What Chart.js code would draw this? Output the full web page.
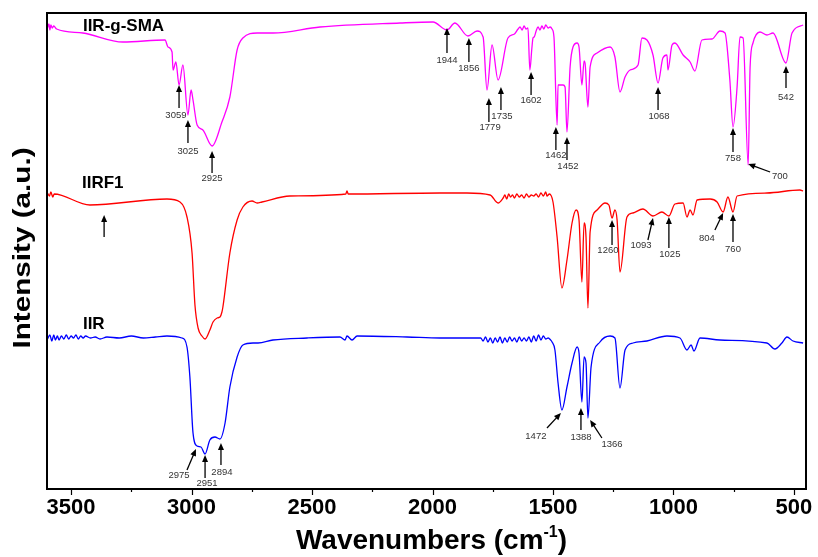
<!DOCTYPE html>
<html>
<head>
<meta charset="utf-8">
<script src="https://cdn.jsdelivr.net/npm/chart.js@4.4.0/dist/chart.umd.min.js"></script>
<style>
  body { margin: 0; background: #fff; }
  #wrap { width: 818px; height: 557px; }
</style>
</head>
<body>
<div id="wrap"><canvas id="ftir" width="818" height="557"></canvas></div>
<script>
// wavenumber (cm-1) / intensity (a.u., offset per trace)
var smaWn = [3598, 3592, 3588, 3584, 3578, 3572, 3560, 3451, 3285, 3110, 3098, 3081, 3077, 3065, 3052, 3036, 3015, 3002, 2994, 2977, 2953, 2915, 2874, 2841, 2811, 2787, 2728, 2662, 2467, 2135, 1998, 1940, 1907, 1853, 1815, 1790, 1774, 1753, 1728, 1687, 1660, 1645, 1637, 1628, 1620, 1612, 1604, 1596, 1588, 1583, 1578, 1570, 1562, 1554, 1546, 1538, 1530, 1520, 1512, 1504, 1496, 1483, 1479, 1458, 1450, 1442, 1429, 1417, 1400, 1392, 1380, 1371, 1367, 1355, 1346, 1317, 1263, 1243, 1222, 1201, 1180, 1147, 1131, 1110, 1085, 1064, 1044, 1027, 1023, 1006, 994, 960, 931, 911, 882, 840, 807, 786, 766, 753, 736, 724, 711, 690, 682, 670, 641, 612, 587, 533, 508, 462];
var smaVal = [461, 465, 459, 464, 461, 463, 460, 456, 447, 449, 442, 437, 419, 427, 404, 424, 374, 399, 389, 364, 359, 343, 367, 392, 439, 451, 456, 456, 462, 466, 467, 459, 466, 453, 458, 452, 399, 444, 409, 451, 455, 460, 462, 459, 463, 460, 461, 419, 440, 451, 452, 458, 462, 459, 463, 460, 464, 461, 462, 460, 452, 364, 404, 404, 402, 357, 422, 442, 446, 442, 404, 428, 426, 382, 422, 436, 442, 432, 397, 412, 419, 424, 451, 449, 434, 406, 431, 434, 419, 444, 446, 434, 427, 418, 449, 450, 458, 456, 409, 362, 402, 452, 451, 324, 422, 446, 457, 454, 456, 426, 456, 464];

var rf1Wn = [3598, 3590, 3584, 3576, 3570, 3422, 3102, 3048, 3019, 2998, 2986, 2973, 2957, 2944, 2924, 2911, 2894, 2882, 2874, 2870, 2841, 2811, 2787, 2749, 2728, 2708, 2592, 2360, 2355, 2350, 1969, 1857, 1761, 1728, 1707, 1700, 1692, 1684, 1676, 1668, 1660, 1650, 1640, 1630, 1620, 1610, 1600, 1590, 1580, 1570, 1560, 1550, 1540, 1530, 1525, 1515, 1500, 1483, 1463, 1442, 1421, 1404, 1392, 1380, 1371, 1363, 1355, 1346, 1317, 1284, 1268, 1255, 1243, 1234, 1222, 1193, 1168, 1127, 1085, 1048, 1019, 994, 960, 944, 931, 919, 902, 848, 819, 794, 774, 753, 736, 612, 475, 462];
var rf1Val = [296, 293, 297, 292, 295, 284, 290, 287, 272, 236, 184, 161, 153, 150, 159, 167, 171, 172, 177, 182, 236, 269, 282, 288, 286, 287, 293, 295, 298, 295, 296, 296, 294, 286, 291, 294, 290, 295, 292, 294, 291, 295, 292, 294, 291, 295, 292, 294, 293, 295, 292, 296, 293, 297, 293, 295, 287, 252, 201, 229, 266, 279, 269, 207, 266, 252, 181, 257, 279, 286, 284, 271, 279, 269, 217, 272, 276, 280, 273, 277, 273, 285, 286, 272, 279, 274, 289, 290, 287, 277, 292, 277, 293, 296, 299, 298];

var iirWn = [3598, 3588, 3580, 3572, 3565, 3557, 3550, 3540, 3530, 3520, 3510, 3500, 3490, 3480, 3470, 3460, 3450, 3440, 3420, 3400, 3380, 3351, 3300, 3250, 3200, 3150, 3102, 3040, 3019, 3007, 2994, 2977, 2961, 2944, 2924, 2903, 2882, 2861, 2841, 2811, 2787, 2745, 2724, 2662, 2521, 2384, 2363, 2355, 2334, 2313, 2106, 1969, 1800, 1790, 1780, 1770, 1760, 1750, 1740, 1730, 1720, 1710, 1700, 1690, 1680, 1670, 1660, 1650, 1640, 1630, 1620, 1610, 1600, 1590, 1580, 1570, 1560, 1550, 1540, 1530, 1520, 1510, 1504, 1492, 1479, 1463, 1442, 1421, 1400, 1392, 1380, 1371, 1363, 1355, 1342, 1305, 1263, 1243, 1222, 1201, 1168, 1110, 1027, 973, 944, 927, 915, 890, 807, 612, 579, 550, 529, 504, 462];
var iirVal = [150, 154, 148, 154, 149, 153, 149, 153, 150, 154, 150, 153, 151, 154, 150, 153, 151, 153, 151, 152, 150, 152, 151, 153, 151, 152, 153, 151, 142, 112, 56, 43, 42, 35, 49, 52, 50, 66, 102, 132, 144, 146, 146, 149, 151, 152, 149, 153, 149, 153, 152, 151, 151, 148, 152, 147, 151, 146, 151, 147, 152, 146, 151, 147, 152, 148, 151, 147, 152, 148, 151, 148, 152, 147, 153, 148, 154, 149, 153, 150, 151, 149, 147, 139, 106, 79, 102, 126, 142, 136, 87, 132, 126, 71, 122, 147, 153, 151, 101, 139, 146, 148, 153, 151, 139, 144, 138, 151, 149, 146, 140, 146, 152, 148, 146];

var traceNames = ['IIR-g-SMA', 'IIRF1', 'IIR'];
var traceColors = ['#ff00ff', '#ff0000', '#0000ff'];
var nameWn = [3451, 3455, 3451];
var nameVal = [458, 301, 160];

// peak labels: text, arrow tip, arrow tail, text position
var peakText = ['3059', '3025', '2925', '1944', '1856', '1779', '1735', '1602', '1462', '1452', '1068', '758', '700', '542',
                '', '1260', '1093', '1025', '804', '760',
                '2975', '2951', '2894', '1472', '1388', '1366'];
var tipWn  = [3052, 3015, 2915, 1940, 1849, 1766, 1716, 1591, 1488, 1442, 1064, 753, 690, 533, 3363, 1255, 1085, 1019, 794, 753, 2982, 2944, 2878, 1467, 1384, 1346];
var tipVal = [404, 369, 338, 461, 451, 391, 402, 417, 362, 352, 402, 361, 325, 423, 274, 269, 271, 272, 276, 275, 40, 34, 46, 76, 81, 69];
var tailWn  = [3052, 3015, 2915, 1940, 1849, 1766, 1716, 1591, 1488, 1442, 1064, 753, 599, 533, 3363, 1255, 1106, 1019, 828, 753, 3019, 2944, 2878, 1525, 1384, 1297];
var tailVal = [381, 346, 316, 436, 427, 367, 379, 394, 339, 329, 379, 337, 317, 401, 252, 244, 249, 241, 259, 247, 19, 11, 24, 61, 59, 51];
var textWn  = [3065, 3015, 2915, 1940, 1849, 1761, 1712, 1591, 1488, 1438, 1060, 753, 558, 533, 0, 1272, 1135, 1015, 861, 753, 3052, 2936, 2874, 1571, 1384, 1255];
var textVal = [374, 338, 311, 429, 421, 362, 373, 389, 334, 323, 373, 331, 313, 392, 0, 239, 244, 235, 251, 240, 14, 6, 17, 53, 52, 45];

function pts(wn, val) {
  var out = [];
  for (var i = 0; i < wn.length; i++) out.push({x: wn[i], y: val[i]});
  return out;
}

var BOLD = '"Liberation Sans", Arial, Helvetica, sans-serif';

function arrow(ctx, x1, y1, x2, y2) {
  // from tail (x1,y1) to tip (x2,y2)
  var a = Math.atan2(y2 - y1, x2 - x1);
  var hl = 7, hw = 3;
  ctx.beginPath();
  ctx.moveTo(x1, y1);
  ctx.lineTo(x2 - Math.cos(a) * hl * 0.8, y2 - Math.sin(a) * hl * 0.8);
  ctx.stroke();
  ctx.beginPath();
  ctx.moveTo(x2, y2);
  ctx.lineTo(x2 - Math.cos(a) * hl + Math.sin(a) * hw, y2 - Math.sin(a) * hl - Math.cos(a) * hw);
  ctx.lineTo(x2 - Math.cos(a) * hl - Math.sin(a) * hw, y2 - Math.sin(a) * hl + Math.cos(a) * hw);
  ctx.closePath();
  ctx.fill();
}

var decor = {
  id: 'decor',
  afterDraw: function(chart) {
    var ctx = chart.ctx, ca = chart.chartArea;
    var xs = chart.scales.x, ys = chart.scales.y;
    ctx.save();

    // frame
    ctx.strokeStyle = '#000';
    ctx.lineWidth = 2;
    ctx.strokeRect(ca.left, ca.top, ca.right - ca.left, ca.bottom - ca.top);

    // x ticks
    ctx.lineWidth = 1.2;
    xs.ticks.forEach(function(t) {
      var px = Math.round(xs.getPixelForValue(t.value)) + 0.5;
      var len = (t.value % 500 === 0) ? 6 : 3;
      ctx.beginPath();
      ctx.moveTo(px, ca.bottom);
      ctx.lineTo(px, ca.bottom + len);
      ctx.stroke();
    });

    // trace names
    ctx.font = 'bold 17px ' + BOLD;
    ctx.fillStyle = '#000';
    ctx.textAlign = 'left';
    ctx.textBaseline = 'alphabetic';
    for (var i = 0; i < traceNames.length; i++) {
      ctx.fillText(traceNames[i], xs.getPixelForValue(nameWn[i]), ys.getPixelForValue(nameVal[i]));
    }

    // peak arrows and labels
    ctx.strokeStyle = '#000';
    ctx.fillStyle = '#000';
    ctx.lineWidth = 1.3;
    for (var j = 0; j < peakText.length; j++) {
      arrow(ctx, xs.getPixelForValue(tailWn[j]), ys.getPixelForValue(tailVal[j]),
                 xs.getPixelForValue(tipWn[j]), ys.getPixelForValue(tipVal[j]));
    }
    ctx.font = '9.5px ' + BOLD;
    ctx.fillStyle = '#333';
    ctx.textAlign = 'center';
    ctx.textBaseline = 'middle';
    for (var k = 0; k < peakText.length; k++) {
      if (!peakText[k]) continue;
      ctx.fillText(peakText[k], xs.getPixelForValue(textWn[k]), ys.getPixelForValue(textVal[k]));
    }

    // y title
    ctx.save();
    ctx.fillStyle = '#000';
    ctx.font = 'bold 24px ' + BOLD;
    ctx.translate(23, (ca.top + ca.bottom) / 2 - 3);
    ctx.rotate(-Math.PI / 2);
    var yt = 'Intensity (a.u.)';
    var yw = ctx.measureText(yt).width;
    ctx.scale(201 / yw, 1);
    ctx.textAlign = 'center';
    ctx.textBaseline = 'middle';
    ctx.fillText(yt, 0, 0);
    ctx.restore();

    // x title with superscript
    ctx.save();
    ctx.fillStyle = '#000';
    ctx.textAlign = 'left';
    ctx.textBaseline = 'alphabetic';
    var big = 'bold 28px ' + BOLD, small = 'bold 16px ' + BOLD;
    ctx.font = big;
    var p1 = 'Wavenumbers (cm', p3 = ')';
    var w1 = ctx.measureText(p1).width, w3 = ctx.measureText(p3).width;
    ctx.font = small;
    var w2 = ctx.measureText('-1').width;
    var total = w1 + w2 + w3;
    var target = 271;
    ctx.translate((ca.left + ca.right) / 2 + 5 - target / 2, 549);
    ctx.scale(target / total, 1);
    ctx.font = big;
    ctx.fillText(p1, 0, 0);
    ctx.font = small;
    ctx.fillText('-1', w1, -12);
    ctx.font = big;
    ctx.fillText(p3, w1 + w2, 0);
    ctx.restore();

    ctx.restore();
  }
};

var ctx = document.getElementById('ftir');
var chart = new Chart(ctx, {
  type: 'line',
  data: {
    datasets: [
      { label: traceNames[0], data: pts(smaWn, smaVal), borderColor: traceColors[0] },
      { label: traceNames[1], data: pts(rf1Wn, rf1Val), borderColor: traceColors[1] },
      { label: traceNames[2], data: pts(iirWn, iirVal), borderColor: traceColors[2] }
    ]
  },
  options: {
    responsive: false,
    animation: false,
    devicePixelRatio: 1,
    layout: { padding: { top: 13, right: 12, left: 0, bottom: 0 } },
    elements: {
      line: { borderWidth: 1.3, cubicInterpolationMode: 'monotone', fill: false },
      point: { radius: 0 }
    },
    plugins: {
      legend: { display: false },
      tooltip: { enabled: false }
    },
    scales: {
      x: {
        type: 'linear',
        reverse: true,
        min: 450,
        max: 3600,
        grid: { display: false },
        border: { display: false },
        afterBuildTicks: function(axis) {
          var t = [];
          for (var v = 500; v <= 3500; v += 250) t.push({ value: v });
          axis.ticks = t;
        },
        afterFit: function(axis) { axis.height = 68; },
        ticks: {
          autoSkip: false,
          maxRotation: 0,
          padding: -2,
          color: '#000',
          font: { family: BOLD, size: 22, weight: 'bold' },
          callback: function(v) { return v % 500 === 0 ? String(v) : ''; }
        }
      },
      y: {
        min: 0,
        max: 476,
        grid: { display: false },
        border: { display: false },
        ticks: { display: false },
        afterFit: function(axis) { axis.width = 47; }
      }
    }
  },
  plugins: [decor]
});
</script>
</body>
</html>
